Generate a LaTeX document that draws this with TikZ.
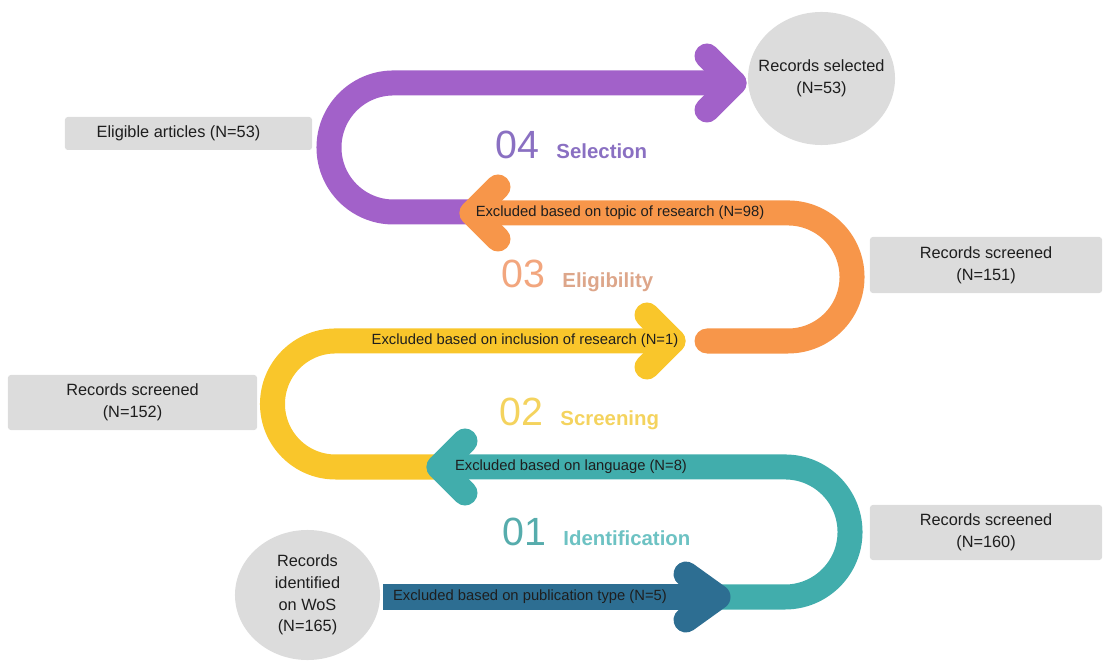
\documentclass[tikz,border=0pt]{standalone}
\usepackage{fontspec}
\setmainfont{Liberation Sans}
\usetikzlibrary{positioning,calc,shapes.geometric}
\definecolor{Ink}{HTML}{1E1E1E}
\definecolor{Box}{HTML}{DCDCDC}
\definecolor{Purple}{HTML}{A261C9}
\definecolor{Orange}{HTML}{F7964A}
\definecolor{Yellow}{HTML}{F9C62B}
\definecolor{Teal}{HTML}{41ADAC}
\definecolor{Navy}{HTML}{2D6E92}
\definecolor{PurpleSoft}{HTML}{8A70C2}
\definecolor{OrangeSoft}{HTML}{F2A67E}
\definecolor{OrangeMuted}{HTML}{DDA68A}
\definecolor{YellowSoft}{HTML}{F4D35E}
\definecolor{TealSoft}{HTML}{56ACAC}
\definecolor{TealLight}{HTML}{6DC2C3}
\tikzset{
  band/.style={line width=6.25mm,line cap=round,line join=round},
  infobox/.style={fill=Box,rounded corners=2pt,align=center,font=\fontsize{11.6}{15.5}\selectfont,text=Ink,inner sep=0pt},
  infocircle/.style={ellipse,fill=Box,align=center,font=\fontsize{11.6}{15.5}\selectfont,text=Ink,inner sep=0pt},
  circletext/.style={align=center,font=\fontsize{11.6}{15.5}\selectfont,text=Ink,inner sep=0pt},
  bandtext/.style={font=\fontsize{10.5}{12}\selectfont,text=Ink,inner sep=0pt},
  stagenum/.style={font=\fontsize{28}{30}\selectfont,inner sep=0pt},
  stageword/.style={font=\fontsize{14.5}{16}\selectfont\bfseries,inner sep=0pt}
}

\begin{document}
\begin{tikzpicture}[x=0.025cm,y=-0.025cm]
  \useasboundingbox (0,0) rectangle (1104,661);
  % turning points of the ribbon
  \coordinate (selStart) at (470,212);
  \coordinate (selTip) at (734,83);
  \coordinate (eliStart) at (707,341);
  \coordinate (eliTip) at (472,213);
  \coordinate (scrStart) at (440,467);
  \coordinate (scrTip) at (673,341);
  \coordinate (idfStart) at (712,597);
  \coordinate (idfTip) at (439,467);
  \coordinate (wosStart) at (383,597);
  \coordinate (wosTip) at (718,597);

  % 04 selection
  \draw[band,Purple] (selStart) -- (393.5,212) arc[start angle=270,end angle=90,radius=1.6125cm] -- (selTip);
  \draw[band,Purple] ($(selTip)+(-27,-27)$) -- (selTip) -- ($(selTip)+(-27,27)$);
  % 03 eligibility
  \draw[band,Orange] (eliStart) -- (788,341) arc[start angle=-90,end angle=90,radius=1.6cm] -- (eliTip);
  \draw[band,Orange] ($(eliTip)+(26,-26)$) -- (eliTip) -- ($(eliTip)+(26,26)$);
  % 02 screening
  \draw[band,Yellow] (scrStart) -- (335.5,467) arc[start angle=270,end angle=90,radius=1.575cm] -- (scrTip);
  \draw[band,Yellow] ($(scrTip)+(-26,-26)$) -- (scrTip) -- ($(scrTip)+(-26,26)$);
  % 01 identification
  \draw[band,Teal] (idfStart) -- (785,597) arc[start angle=-90,end angle=90,radius=1.625cm] -- (idfTip);
  \draw[band,Teal] ($(idfTip)+(26,-26)$) -- (idfTip) -- ($(idfTip)+(26,26)$);
  \draw[band,Navy,line cap=butt] (wosStart) -- (wosTip);
  \draw[band,Navy] ($(wosTip)+(-32,-23)$) -- (wosTip) -- ($(wosTip)+(-32,23)$);

  % labels on the ribbon
  \node[bandtext] (excTopic) at (620,213) {Excluded based on topic of research (N=98)};
  \node[bandtext] (excIncl) at (525,341) {Excluded based on inclusion of research (N=1)};
  \node[bandtext] (excLang) at (571,467) {Excluded based on language (N=8)};
  \node[bandtext] (excPub) at (530,597) {Excluded based on publication type (N=5)};

  % stage titles
  \node[stagenum,text=PurpleSoft] (num4) at (517,145) {04};
  \node[stageword,text=PurpleSoft,right=4.25mm of num4.base east,anchor=base west] (sel) {Selection};
  \node[stagenum,text=OrangeSoft] (num3) at (523,274) {03};
  \node[stageword,text=OrangeMuted,right=4.25mm of num3.base east,anchor=base west] (eli) {Eligibility};
  \node[stagenum,text=YellowSoft] (num2) at (521,412) {02};
  \node[stageword,text=YellowSoft,right=4.25mm of num2.base east,anchor=base west] (scr) {Screening};
  \node[stagenum,text=TealSoft] (num1) at (524,532) {01};
  \node[stageword,text=TealLight,right=4.25mm of num1.base east,anchor=base west] (idf) {Identification};

  % counts
  \node[infocircle,minimum width=3.675cm,minimum height=3.325cm] (recSel) at (821.5,78.5) {};
  \node[circletext] (recSelText) at (recSel.center) {Records selected\\(N=53)};
  \node[infobox,minimum width=6.175cm,minimum height=0.825cm] (eligible) at (188.5,133.5) {\hspace*{-5mm}Eligible articles (N=53)};
  \node[infobox,minimum width=5.8cm,minimum height=1.4cm] (scr151) at (986,265) {Records screened\\(N=151)};
  \node[infobox,minimum width=6.225cm,minimum height=1.375cm] (scr152) at (132.5,402.5) {Records screened\\(N=152)};
  \node[infobox,minimum width=5.8cm,minimum height=1.375cm] (scr160) at (986,532.5) {Records screened\\(N=160)};
  \node[infocircle,minimum width=3.625cm,minimum height=3.25cm] (recWos) at (307.5,595) {Records\\identified\\on WoS\\(N=165)};
\end{tikzpicture}
\end{document}
